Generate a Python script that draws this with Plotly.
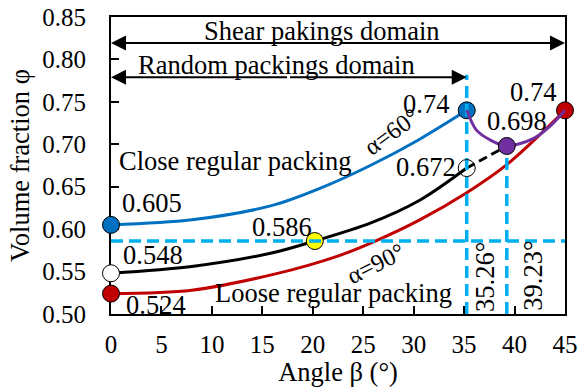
import plotly.graph_objects as go

# ---- data ----
blue_x = [0, 8, 16, 20.7, 25.7, 30.6, 35.26]
blue_y = [0.605, 0.611, 0.628, 0.648, 0.675, 0.706, 0.74]

black_x = [0, 8, 15.8, 20.2, 25.7, 30.6, 35.26]
black_y = [0.548, 0.556, 0.5715, 0.586, 0.607, 0.634, 0.672]

black_dash_x = [35.26, 39.23]
black_dash_y = [0.672, 0.698]

red_x = [0, 8, 16.2, 22.4, 26.2, 30.6, 35.26, 39.23, 45]
red_y = [0.524, 0.528, 0.547, 0.568, 0.586, 0.611, 0.643, 0.676, 0.74]

purple_x = [35.26, 36.2, 37.6, 39.23, 41.9, 43.5, 45]
purple_y = [0.74, 0.717, 0.705, 0.698, 0.707, 0.721, 0.74]

key_x = [0, 0, 0, 20.2, 35.26, 35.26, 39.23, 45]
key_y = [0.605, 0.548, 0.524, 0.586, 0.74, 0.672, 0.698, 0.74]

x_ticks = [0, 5, 10, 15, 20, 25, 30, 35, 40, 45]
y_ticks = [0.50, 0.55, 0.60, 0.65, 0.70, 0.75, 0.80, 0.85]

BLUE = "#0070C0"
RED = "#C00000"
PURPLE = "#7030A0"
CYAN = "#00B0F0"
FONT = "Liberation Serif"
FS = 25
FA = 26.5

fig = go.Figure()

def line(x, y, color, width=3, dash=None, shape="spline"):
    fig.add_trace(go.Scatter(x=x, y=y, mode="lines",
                             line=dict(color=color, width=width, dash=dash, shape=shape,
                                       smoothing=0.9 if shape == "spline" else None),
                             hoverinfo="skip", showlegend=False, cliponaxis=False))

def marker(x, y, fill):
    fig.add_trace(go.Scatter(x=[x], y=[y], mode="markers",
                             marker=dict(size=17, color=fill, line=dict(color="black", width=1)),
                             hoverinfo="skip", showlegend=False, cliponaxis=False))

line(blue_x, blue_y, BLUE)
line(black_x, black_y, "black")
line(red_x, red_y, RED)
line(black_dash_x, black_dash_y, "black", dash="9px,5px", shape="linear")

marker(key_x[0], key_y[0], BLUE)
marker(key_x[1], key_y[1], "white")
marker(key_x[2], key_y[2], RED)
marker(key_x[3], key_y[3], "#FFFF00")
marker(key_x[4], key_y[4], BLUE)
marker(key_x[7], key_y[7], RED)

# cyan dashed reference lines
line([0, 45], [0.586, 0.586], CYAN, width=3.5, dash="12px,6px", shape="linear")
line([35.26, 35.26], [0.50, 0.782], CYAN, width=3.5, dash="12px,6px", shape="linear")
line([39.23, 39.23], [0.50, 0.698], CYAN, width=3.5, dash="12px,6px", shape="linear")

line(purple_x, purple_y, PURPLE)
marker(key_x[6], key_y[6], PURPLE)
marker(key_x[5], key_y[5], "rgba(0,0,0,0)")

ann = []
def txt(x, y, s, angle=0, xanchor="center", size=FA):
    ann.append(dict(x=x, y=y, xref="x", yref="y", text=s, showarrow=False,
                    textangle=angle, xanchor=xanchor, yanchor="middle",
                    font=dict(family=FONT, size=size, color="black")))

def arrow(x_tip, x_tail, y):
    ann.append(dict(x=x_tip, y=y, ax=x_tail, ay=y, xref="x", yref="y",
                    axref="x", ayref="y", text="", showarrow=True,
                    arrowhead=2, arrowsize=1.5, arrowwidth=2, arrowcolor="black"))

arrow(0, 22.5, 0.8194)
arrow(45, 22.5, 0.8194)
arrow(0, 17.6, 0.779)
arrow(35.26, 17.6, 0.779)

txt(20.9, 0.833, "Shear pakings domain")
txt(16.4, 0.7934, "Random packings domain")
txt(0.6, 0.680, "Close regular packing", xanchor="left")
txt(0.9, 0.631, "0.605", xanchor="left")
txt(1.0, 0.5695, "0.548", xanchor="left")
txt(1.3, 0.5112, "0.524", xanchor="left")
txt(16.9, 0.603, "0.586")
txt(27.8, 0.7150, "α=60°", angle=-36, size=24.5)
txt(31.2, 0.7475, "0.74")
txt(31.2, 0.6727, "0.672")
txt(40.24, 0.7275, "0.698")
txt(41.8, 0.762, "0.74")
txt(26.2, 0.560, "α=90°", angle=-27, size=24.5)
txt(22.05, 0.5248, "Loose regular packing")
txt(37.0, 0.544, "35.26°", angle=-90)
txt(41.8, 0.5448, "39.23°", angle=-90)

axis_font = dict(family=FONT, size=FS, color="black")
title_font = dict(family=FONT, size=FA, color="black")
fig.update_layout(
    width=579, height=387,
    margin=dict(l=111, r=14, t=17, b=73),
    paper_bgcolor="white", plot_bgcolor="white",
    showlegend=False,
    annotations=ann,
    xaxis=dict(range=[0, 45], tickvals=x_ticks, ticktext=[str(v) for v in x_ticks],
               ticks="inside", ticklen=8, tickwidth=1.5, tickcolor="black",
               showline=True, linecolor="black", linewidth=2, mirror=True,
               showgrid=False, zeroline=False, tickfont=axis_font,
               ticklabelstandoff=7, automargin=False, layer="below traces",
               title=dict(text="Angle β (°)", font=title_font, standoff=2)),
    yaxis=dict(range=[0.5, 0.85], tickvals=y_ticks, ticktext=[f"{v:.2f}" for v in y_ticks],
               ticks="inside", ticklen=8, tickwidth=1.5, tickcolor="black",
               showline=True, linecolor="black", linewidth=2, mirror=True,
               showgrid=False, zeroline=False, tickfont=axis_font,
               ticklabelstandoff=18, automargin=False, layer="below traces",
               title=dict(text="Volume fraction φ", font=title_font, standoff=5)),
)

fig.write_html("out.html", post_script="document.body.style.margin='0';",
               config={"displayModeBar": False})
